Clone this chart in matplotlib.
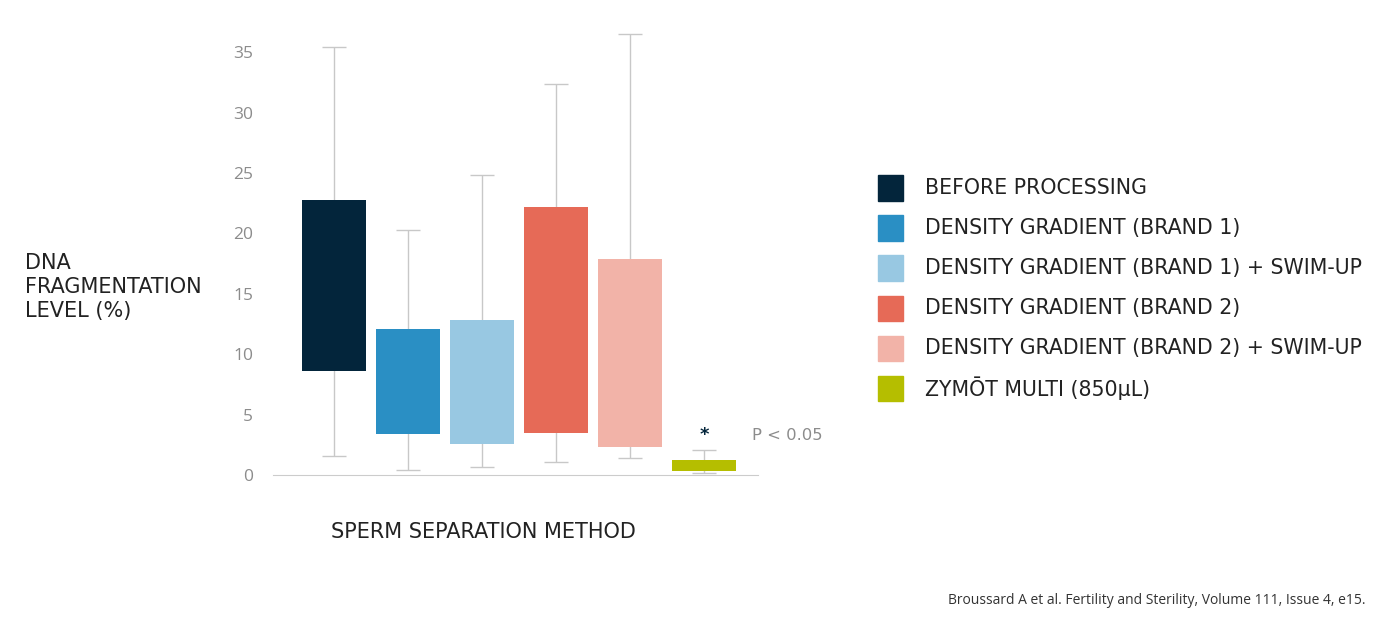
import matplotlib.pyplot as plt
from matplotlib.patches import Rectangle

plt.rcParams['font.family'] = ['Open Sans', 'DejaVu Sans']
wide = ['DejaVu Sans']

methods = ['BEFORE PROCESSING', 'DENSITY GRADIENT (BRAND 1)',
           'DENSITY GRADIENT (BRAND 1) + SWIM-UP', 'DENSITY GRADIENT (BRAND 2)',
           'DENSITY GRADIENT (BRAND 2) + SWIM-UP', 'ZYMŌT MULTI (850µL)']
q1 = [8.6, 3.4, 2.6, 3.5, 2.3, 0.33]
q3 = [22.8, 12.1, 12.8, 22.2, 17.9, 1.24]
w_low = [1.6, 0.4, 0.66, 1.1, 1.4, 0.17]
w_high = [35.4, 20.3, 24.8, 32.4, 36.5, 2.07]
colors = ['#03253b', '#2a8fc4', '#98c8e2', '#e66a57', '#f2b3a8', '#b5be00']

W, H = 1392, 636
fig = plt.figure(figsize=(W / 100, H / 100), dpi=100)
ax = fig.add_axes([273 / W, 1 - 475 / H, (758 - 273) / W, (475 - 28) / H])

x = list(range(len(methods)))
ax.vlines(x, w_low, w_high, color='#c8c8c8', lw=1, zorder=1)
ax.hlines(w_low, [i - 0.165 for i in x], [i + 0.165 for i in x], color='#c8c8c8', lw=1, zorder=1)
ax.hlines(w_high, [i - 0.165 for i in x], [i + 0.165 for i in x], color='#c8c8c8', lw=1, zorder=1)
ax.bar(x, [t - b for t, b in zip(q3, q1)], bottom=q1, width=0.87, color=colors, zorder=2)

ax.set_xlim(-0.82, 5.73)
ax.set_ylim(0, 37)
ax.set_yticks(range(0, 40, 5))
ax.set_xticks([])
ax.tick_params(axis='y', length=0, pad=14.4, labelsize=12.5, labelcolor='#8c8c8c')
for s in ['top', 'right', 'left']:
    ax.spines[s].set_visible(False)
ax.spines['bottom'].set_color('#cccccc')

ax.text(5, 3.3, '*', ha='center', va='center', fontsize=13, fontweight='bold',
        color='#03253b', family=wide)
ax.text(5.65, 3.3, 'P < 0.05', ha='left', va='center', fontsize=11.8, color='#8c8c8c',
        clip_on=False, family=wide)

fig.text(25 / W, 1 - 287 / H, 'DNA\nFRAGMENTATION\nLEVEL (%)', ha='left', va='center',
         fontsize=15, color='#222222', linespacing=1.22, family=wide)
fig.text(483 / W, 1 - 532 / H, 'SPERM SEPARATION METHOD', ha='center', va='center',
         fontsize=15, color='#222222', family=wide)

for i, (lab, c) in enumerate(zip(methods, colors)):
    yc = 188 + 40 * i
    fig.patches.append(Rectangle((878 / W, 1 - (yc + 12.5) / H), 25 / W, 25 / H,
                                 transform=fig.transFigure, color=c))
    fig.text(925 / W, 1 - yc / H, lab, ha='left', va='center', fontsize=14.8,
             color='#222222', family=wide)

fig.text(1365 / W, 1 - 601 / H, 'Broussard A et al. Fertility and Sterility, Volume 111, Issue 4, e15.',
         ha='right', va='center', fontsize=10, color='#333333')

fig.savefig('out.png', dpi=100, facecolor='white')
